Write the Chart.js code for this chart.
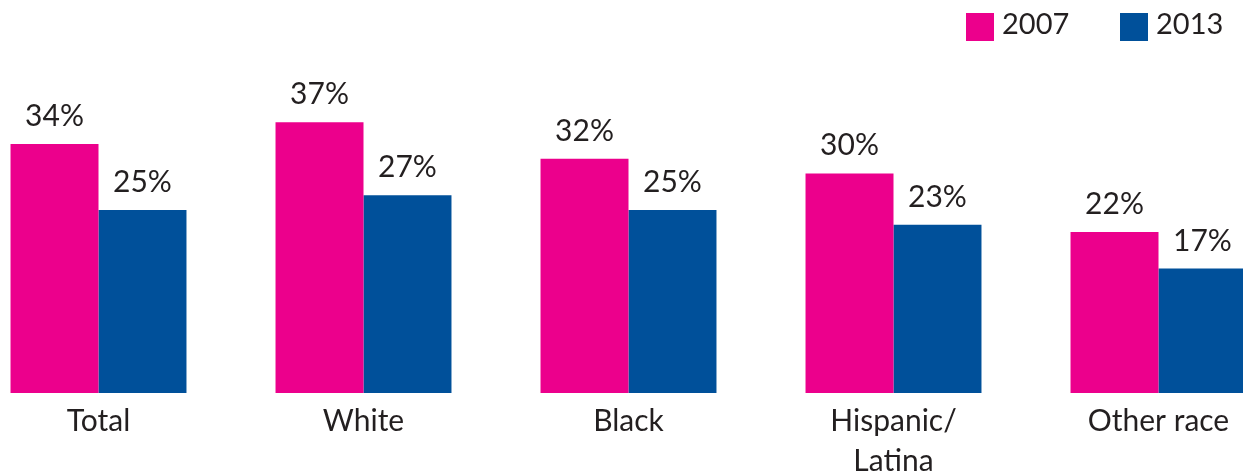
<!DOCTYPE html>
<html>
<head>
<meta charset="utf-8">
<script src="https://cdn.jsdelivr.net/npm/chart.js@4.4.1/dist/chart.umd.min.js"></script>
<style>
  html, body { margin: 0; padding: 0; background: #fff; overflow: hidden; }
  #wrap { position: absolute; left: -34px; top: 0; width: 1325px; height: 474px; }
</style>
</head>
<body>
<div id="wrap"><canvas id="bars"></canvas></div>
<script>
// Chart data
const categories = ['Total', 'White', 'Black', ['Hispanic/', 'Latina'], 'Other race'];
const values2007 = [34, 37, 32, 30, 22];
const values2013 = [25, 27, 25, 23, 17];
const seriesNames = ['2007', '2013'];

// Colors
const colors = {
  pink: '#EC008C',
  blue: '#00509A',
  text: '#231F20'
};

const fontFamily = 'Lato, "Noto Sans", sans-serif';

// Value labels above every bar
const valueLabels = {
  id: 'valueLabels',
  afterDatasetsDraw(chart) {
    const ctx = chart.ctx;
    ctx.save();
    ctx.font = '30px ' + fontFamily;
    ctx.fillStyle = colors.text;
    ctx.textAlign = 'center';
    ctx.textBaseline = 'alphabetic';
    chart.data.datasets.forEach((ds, i) => {
      chart.getDatasetMeta(i).data.forEach((bar, j) => {
        ctx.fillText(ds.data[j] + '%', bar.x, bar.y - 18);
      });
    });
    ctx.restore();
  }
};

// Legend in the top right corner
const cornerLegend = {
  id: 'cornerLegend',
  afterDraw(chart) {
    const ctx = chart.ctx;
    const spots = [1000, 1154];
    ctx.save();
    ctx.font = '29px ' + fontFamily;
    ctx.textBaseline = 'alphabetic';
    ctx.textAlign = 'left';
    chart.data.datasets.forEach((ds, i) => {
      const x = spots[i];
      ctx.fillStyle = ds.backgroundColor;
      ctx.fillRect(x, 13, 28, 28);
      ctx.fillStyle = colors.text;
      ctx.fillText(ds.label, x + 36, 34);
    });
    ctx.restore();
  }
};

new Chart(document.getElementById('bars'), {
  type: 'bar',
  data: {
    labels: categories,
    datasets: [
      { label: seriesNames[0], data: values2007, backgroundColor: colors.pink, borderWidth: 0 },
      { label: seriesNames[1], data: values2013, backgroundColor: colors.blue, borderWidth: 0 }
    ]
  },
  options: {
    responsive: true,
    maintainAspectRatio: false,
    animation: false,
    layout: { padding: { top: 27, left: 0, right: 0, bottom: 0 } },
    datasets: {
      bar: { categoryPercentage: 0.664, barPercentage: 1.0 }
    },
    plugins: {
      legend: { display: false },
      tooltip: { enabled: false }
    },
    scales: {
      x: {
        grid: { display: false },
        border: { display: false },
        ticks: {
          color: colors.text,
          font: { family: fontFamily, size: 30, lineHeight: 1.33 },
          padding: 0,
          maxRotation: 0,
          autoSkip: false
        },
        afterFit(scale) { scale.height = 81; }
      },
      y: {
        display: false,
        min: 0,
        max: 50
      }
    }
  },
  plugins: [valueLabels, cornerLegend]
});
</script>
</body>
</html>
